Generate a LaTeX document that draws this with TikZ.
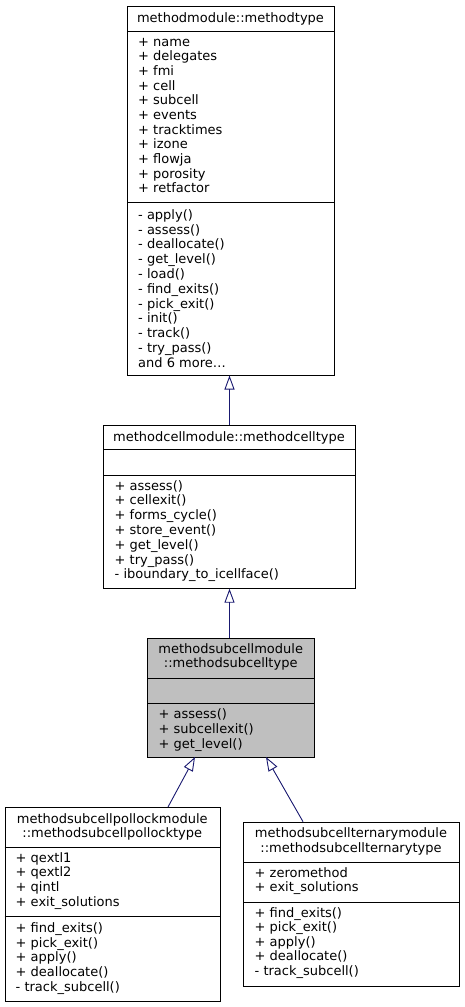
\documentclass[tikz,border=0pt]{standalone}
\usepackage{fontspec}
\setmainfont{DejaVu Sans}
\usetikzlibrary{arrows.meta}
\definecolor{edgeblue}{HTML}{191970}
\definecolor{hlgray}{HTML}{BFBFBF}
\begin{document}
\begin{tikzpicture}[x=1pt,y=-1pt,
  box/.style={draw=black, line width=1pt, inner sep=0pt, anchor=north west},
  sep/.style={draw=black, line width=1pt},
  lbl/.style={anchor=base west, inner sep=0pt, font=\fontsize{13}{14.7}\selectfont},
  ttl/.style={anchor=base, inner sep=0pt, font=\fontsize{13}{14.7}\selectfont},
  inh/.style={draw=edgeblue, line width=0.9pt, -{Triangle[open, length=14pt, width=10pt]}}]
\useasboundingbox (0,0) rectangle (464,1007);

% Box 1: methodmodule::methodtype
\node[box, minimum width=207pt, minimum height=369pt] (mt) at (127,5.5) {};
\node[ttl] (mtt) at (230.5,22.5) {methodmodule::methodtype};
\draw[sep] (127,31) -- (334,31);
\draw[sep] (127,202) -- (334,202);
\foreach \t [count=\i from 0] in {{+ name},{+ delegates},{+ fmi},{+ cell},{+ subcell},{+ events},{+ tracktimes},{+ izone},{+ flowja},{+ porosity},{+ retfactor}}
  \node[lbl] (mta\i) at (138,{46.2+\i*14.67}) {\t};
\foreach \t [count=\i from 0] in {{- apply()},{- assess()},{- deallocate()},{- get\_level()},{- load()},{- find\_exits()},{- pick\_exit()},{- init()},{- track()},{- try\_pass()}}
  \node[lbl] (mtm\i) at (138,{219.2+\i*14.8}) {\t};
\node[lbl] (mtmore) at (138,367.2) {and 6 more\dots};

% Box 2: methodcellmodule::methodcelltype
\node[box, minimum width=252pt, minimum height=163.2pt] (mc) at (103,424.5) {};
\node[ttl] (mct) at (229,441.5) {methodcellmodule::methodcelltype};
\draw[sep] (103,449) -- (355,449);
\draw[sep] (103,475.7) -- (355,475.7);
\foreach \t [count=\i from 0] in {{+ assess()},{+ cellexit()},{+ forms\_cycle()},{+ store\_event()},{+ get\_level()},{+ try\_pass()},{- iboundary\_to\_icellface()}}
  \node[lbl] (mcm\i) at (114.5,{490+\i*14.8}) {\t};

% Box 3: methodsubcellmodule::methodsubcelltype
\node[box, fill=hlgray, minimum width=166.7pt, minimum height=119pt] (ms) at (147.3,638) {};
\node[ttl] (mst1) at (230.7,653.5) {methodsubcellmodule};
\node[ttl] (mst2) at (230.7,667.8) {::methodsubcelltype};
\draw[sep] (147.3,678) -- (314,678);
\draw[sep] (147.3,703) -- (314,703);
\foreach \t [count=\i from 0] in {{+ assess()},{+ subcellexit()},{+ get\_level()}}
  \node[lbl] (msm\i) at (158.5,{718.5+\i*14.8}) {\t};

% Box 4: pollock
\node[box, minimum width=215.3pt, minimum height=193.7pt] (pl) at (4.7,807) {};
\node[ttl] (plt1) at (112.3,823) {methodsubcellpollockmodule};
\node[ttl] (plt2) at (112.3,837.5) {::methodsubcellpollocktype};
\draw[sep] (4.7,847) -- (220,847);
\draw[sep] (4.7,916) -- (220,916);
\foreach \t [count=\i from 0] in {{+ qextl1},{+ qextl2},{+ qintl},{+ exit\_solutions}}
  \node[lbl] (pla\i) at (15.5,{862+\i*14.67}) {\t};
\foreach \t [count=\i from 0] in {{+ find\_exits()},{+ pick\_exit()},{+ apply()},{+ deallocate()},{- track\_subcell()}}
  \node[lbl] (plm\i) at (15.5,{932.5+\i*14.67}) {\t};

% Box 5: ternary
\node[box, minimum width=216pt, minimum height=164.3pt] (tr) at (243,821.7) {};
\node[ttl] (trt1) at (351,837.5) {methodsubcellternarymodule};
\node[ttl] (trt2) at (351,852) {::methodsubcellternarytype};
\draw[sep] (243,862) -- (459,862);
\draw[sep] (243,902.7) -- (459,902.7);
\foreach \t [count=\i from 0] in {{+ zeromethod},{+ exit\_solutions}}
  \node[lbl] (tra\i) at (254.5,{877+\i*14.5}) {\t};
\foreach \t [count=\i from 0] in {{+ find\_exits()},{+ pick\_exit()},{+ apply()},{+ deallocate()},{- track\_subcell()}}
  \node[lbl] (trm\i) at (254.5,{917+\i*14.6}) {\t};

% Inheritance connectors
\coordinate (mcTop) at (mc.north);
\coordinate (mtBot) at (mc.north |- mt.south);
\draw[inh] (mcTop) -- (mtBot);
\coordinate (msTop) at (ms.north -| mc.north);
\coordinate (mcBot) at (mc.south);
\draw[inh] (msTop) -- (mcBot);
\coordinate (plTop) at (168,807);
\coordinate (msBotL) at (195,757);
\draw[inh] (plTop) -- (msBotL);
\coordinate (trTop) at (303,821.7);
\coordinate (msBotR) at (266,757);
\draw[inh] (trTop) -- (msBotR);
\end{tikzpicture}
\end{document}
